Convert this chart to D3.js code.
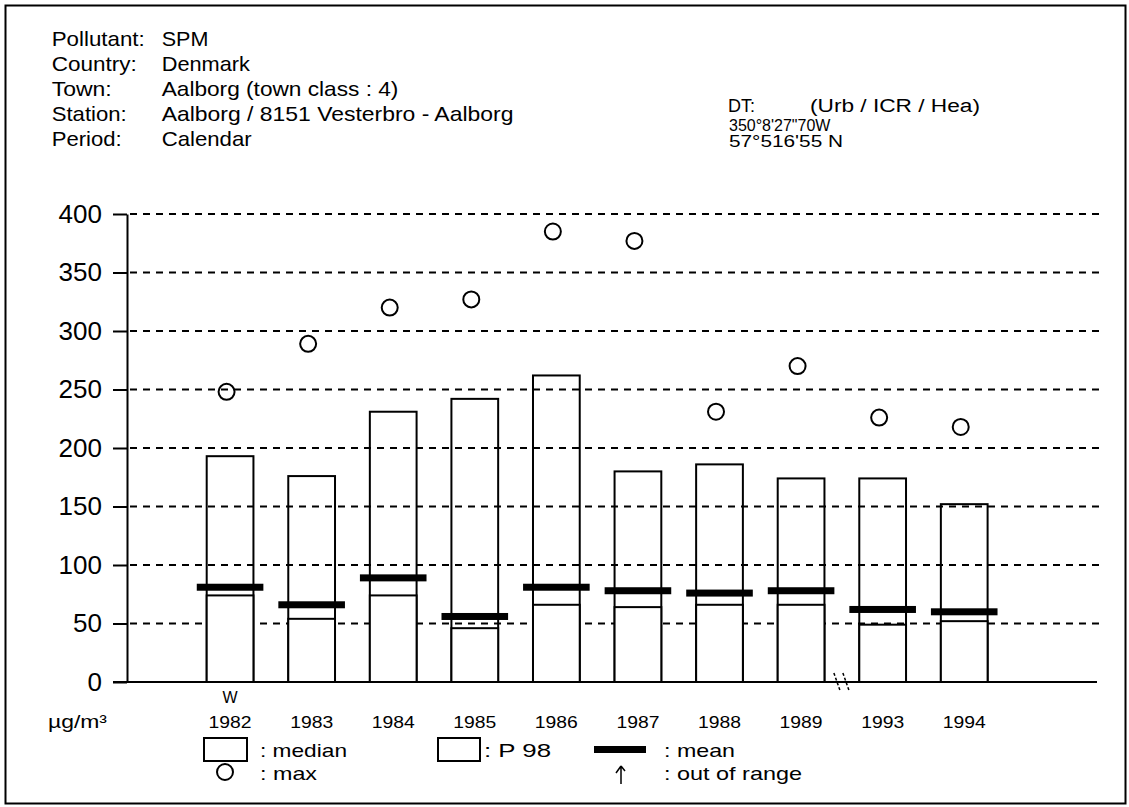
<!DOCTYPE html>
<html><head><meta charset="utf-8">
<script src="https://cdn.jsdelivr.net/npm/d3@7/dist/d3.min.js"></script>
<style>
body{margin:0;background:#fff}
svg{display:block}
text{font-family:"Liberation Sans",Arial,sans-serif;fill:#000}
</style>
</head><body>
<svg id="c" width="1129" height="807"></svg>
<script>
// ---- data ----
const years  = ["1982","1983","1984","1985","1986","1987","1988","1989","1993","1994"];
const p98    = [193, 176, 231, 242, 262, 180, 186, 174, 174, 152];
const median = [74, 54, 74, 46, 66, 64, 66, 66, 49, 52];
const mean   = [81, 66, 89, 56, 81, 78, 76, 78, 62, 60];
const maxv   = [248, 289, 320, 327, 385, 377, 231, 270, 226, 218];
const yTicks = [0, 50, 100, 150, 200, 250, 300, 350, 400];
const headerLabels = ["Pollutant:", "Country:", "Town:", "Station:", "Period:"];
const headerValues = ["SPM", "Denmark", "Aalborg (town class : 4)", "Aalborg / 8151 Vesterbro - Aalborg", "Calendar"];
const siteType = ["DT:", "(Urb / ICR / Hea)"];
const coords = ["350°8'27\"70W", "57°516'55 N"];
const unitLabel = "µg/m³";
const legendLabels = [": median", ": P 98", ": mean", ": max", ": out of range"];

// ---- layout ----
const svg = d3.select("#c");
const W = 1129, H = 807;
const rows = years.map((y, i) => ({year: y, p98: p98[i], median: median[i], mean: mean[i], max: maxv[i]}));

const x = d3.scaleBand().domain(years).range([206.7, 987.6]).paddingInner(0.427).paddingOuter(0);
const y = d3.scaleLinear().domain([0, 400]).range([682, 214]);
const bw = x.bandwidth();
const cx = d => x(d) + bw / 2;

// frame
svg.append("rect").attr("x", 5.5).attr("y", 5.5).attr("width", W - 9).attr("height", H - 9)
  .attr("fill", "none").attr("stroke", "#000").attr("stroke-width", 2);

// header
const hdr = svg.append("g");
const hlw = [93, 85, 60, 75, 70];
const hvw = [46.7, 88.3, 236.7, 351.7, 90];
headerLabels.forEach((t, i) => {
  hdr.append("text").attr("x", 51.7).attr("y", 45.7 + i * 25).attr("font-size", 21)
    .attr("textLength", hlw[i]).attr("lengthAdjust", "spacingAndGlyphs").text(t);
  hdr.append("text").attr("x", 161.7).attr("y", 45.7 + i * 25).attr("font-size", 21)
    .attr("textLength", hvw[i]).attr("lengthAdjust", "spacingAndGlyphs").text(headerValues[i]);
});
hdr.append("text").attr("x", 728).attr("y", 111.5).attr("font-size", 18).text(siteType[0]);
hdr.append("text").attr("x", 810).attr("y", 111.5).attr("font-size", 18)
  .attr("textLength", 170).attr("lengthAdjust", "spacingAndGlyphs").text(siteType[1]);
hdr.append("text").attr("x", 729).attr("y", 130.5).attr("font-size", 16).text(coords[0]);
hdr.append("text").attr("x", 729).attr("y", 146.5).attr("font-size", 16)
  .attr("textLength", 114).attr("lengthAdjust", "spacingAndGlyphs").text(coords[1]);

// gridlines
svg.append("g").selectAll("line").data(yTicks.filter(v => v > 0)).join("line")
  .attr("x1", 130).attr("x2", 1099).attr("y1", d => y(d)).attr("y2", d => y(d))
  .attr("stroke", "#000").attr("stroke-width", 2).attr("stroke-dasharray", "7,6");

// P98 boxes (unfilled)
svg.append("g").selectAll("rect").data(rows).join("rect")
  .attr("x", d => x(d.year)).attr("y", d => y(d.p98)).attr("width", bw)
  .attr("height", d => y(0) - y(d.p98))
  .attr("fill", "none").attr("stroke", "#000").attr("stroke-width", 2);

// median boxes (white)
svg.append("g").selectAll("rect").data(rows).join("rect")
  .attr("x", d => x(d.year)).attr("y", d => y(d.median)).attr("width", bw)
  .attr("height", d => y(0) - y(d.median))
  .attr("fill", "#fff").attr("stroke", "#000").attr("stroke-width", 2);

// mean bars
svg.append("g").selectAll("rect").data(rows).join("rect")
  .attr("x", d => cx(d.year) - 33.3).attr("y", d => y(d.mean) - 3.5)
  .attr("width", 66.6).attr("height", 7).attr("fill", "#000");

// max circles
svg.append("g").selectAll("circle").data(rows).join("circle")
  .attr("cx", d => cx(d.year) - 3.5).attr("cy", d => y(d.max)).attr("r", 8)
  .attr("fill", "none").attr("stroke", "#000").attr("stroke-width", 2);

// baseline
svg.append("line").attr("x1", 113).attr("x2", 1097).attr("y1", y(0)).attr("y2", y(0))
  .attr("stroke", "#000").attr("stroke-width", 2);

// y axis
const ax = svg.append("g").attr("transform", "translate(127,0)")
  .call(d3.axisLeft(y).tickValues(yTicks).tickSize(14).tickSizeOuter(0).tickPadding(11).tickFormat(d3.format("d")));
ax.select(".domain").attr("stroke", "#000").attr("stroke-width", 2);
ax.selectAll(".tick line").attr("stroke", "#000").attr("stroke-width", 2);
ax.selectAll(".tick text").attr("font-size", 26).attr("font-family", "Liberation Sans, Arial, sans-serif").attr("fill", "#000");

// axis break marks between 1989 and 1993
const brk = (x(years[7]) + bw + x(years[8])) / 2;
[-5, 4].forEach(o => {
  svg.append("line").attr("x1", brk + o - 3).attr("y1", 673).attr("x2", brk + o + 3).attr("y2", 690)
    .attr("stroke", "#000").attr("stroke-width", 1.5).attr("stroke-dasharray", "3,2");
});

// year labels
svg.append("g").selectAll("text").data(years).join("text")
  .attr("x", d => cx(d)).attr("y", 728).attr("text-anchor", "middle").attr("font-size", 17)
  .attr("textLength", 43).attr("lengthAdjust", "spacingAndGlyphs").text(d => d);
svg.append("text").attr("x", cx(years[0])).attr("y", 703).attr("text-anchor", "middle")
  .attr("font-size", 16).text("W");
svg.append("text").attr("x", 48).attr("y", 728).attr("font-size", 18)
  .attr("textLength", 59).attr("lengthAdjust", "spacingAndGlyphs").text(unitLabel);

// legend
const lg = svg.append("g");
lg.append("rect").attr("x", 204).attr("y", 738).attr("width", 43).attr("height", 23)
  .attr("fill", "#fff").attr("stroke", "#000").attr("stroke-width", 2);
lg.append("rect").attr("x", 438).attr("y", 738).attr("width", 42).attr("height", 23)
  .attr("fill", "#fff").attr("stroke", "#000").attr("stroke-width", 2);
lg.append("rect").attr("x", 594).attr("y", 746).attr("width", 52).attr("height", 7).attr("fill", "#000");
lg.append("circle").attr("cx", 225).attr("cy", 772).attr("r", 8)
  .attr("fill", "none").attr("stroke", "#000").attr("stroke-width", 2);
lg.append("path").attr("d", "M621,784 L621,766 M621,766 L616,773 M621,766 L625,771")
  .attr("fill", "none").attr("stroke", "#000").attr("stroke-width", 1.5);
const lgPos = [[260, 757, 87], [484, 757, 67], [664, 757, 71], [260, 779.5, 57], [664, 779.5, 138]];
legendLabels.forEach((t, i) => {
  lg.append("text").attr("x", lgPos[i][0]).attr("y", lgPos[i][1]).attr("font-size", 19)
    .attr("textLength", lgPos[i][2]).attr("lengthAdjust", "spacingAndGlyphs").text(t);
});
</script>
</body></html>
